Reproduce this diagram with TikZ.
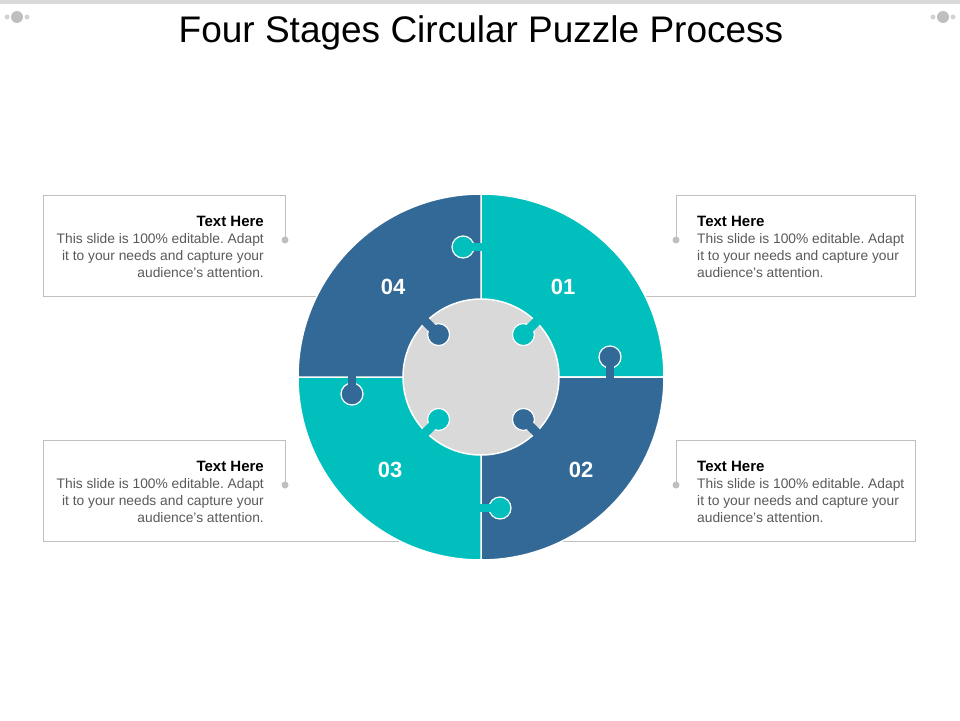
\documentclass[tikz,border=0pt]{standalone}
\usepackage{fontspec}
\setmainfont{Liberation Sans}
\definecolor{cy}{RGB}{0,191,189}
\definecolor{bl}{RGB}{51,105,150}
\definecolor{gr}{RGB}{217,217,217}
\definecolor{ln}{RGB}{191,191,191}
\definecolor{tx}{RGB}{89,89,89}
\tikzset{
  boxline/.style={draw=ln, line width=1pt},
  sector/.style={draw=white, line width=1.5pt},
  knob/.style={draw=white, line width=1.2pt},
  num/.style={font=\fontsize{22}{24}\selectfont\bfseries, text=white},
  head/.style={font=\fontsize{15}{16}\selectfont\bfseries, inner sep=0},
  body/.style={font=\fontsize{13.8}{17}\selectfont, text=tx, inner sep=0},
}
\frenchspacing
\begin{document}
\begin{tikzpicture}[x=1pt,y=-1pt]
\useasboundingbox (0,0) rectangle (960,720);
% top decoration
\fill[gr] (0,0) rectangle (960,4);
\foreach \xx/\s in {17/-1, 943/1}{
  \fill[ln!70] (\xx-10*\s,17) circle (2.5);
  \fill[ln!70] (\xx+10*\s,17) circle (2.5);
  \fill[ln] (\xx,17) circle (6);
}
\node[font=\fontsize{37}{40}\selectfont] (title) at (481,33) {Four Stages Circular Puzzle Process};
% boxes
\draw[boxline] (285,240) -- (285,195) -- (43,195) -- (43,296) -- (481,296);
\draw[boxline] (285,485) -- (285,440) -- (43,440) -- (43,541) -- (481,541);
\draw[boxline] (676,240) -- (676,195) -- (915,195) -- (915,296) -- (481,296);
\draw[boxline] (676,485) -- (676,440) -- (915,440) -- (915,541) -- (481,541);
\foreach \p in {(285,240),(285,485),(676,240),(676,485)} \fill[ln] \p circle (3.5);
% texts
\node[head, anchor=base east] (h1) at (264,226) {Text Here};
\node[body, anchor=north east, align=right] (b1) at (264,233) {This slide is 100\% editable. Adapt\\it to your needs and capture your\\audience's attention.};
\node[head, anchor=base east] (h2) at (264,471) {Text Here};
\node[body, anchor=north east, align=right] (b2) at (264,478) {This slide is 100\% editable. Adapt\\it to your needs and capture your\\audience's attention.};
\node[head, anchor=base west] (h3) at (697,226) {Text Here};
\node[body, anchor=north west, align=left] (b3) at (697,233) {This slide is 100\% editable. Adapt\\it to your needs and capture your\\audience's attention.};
\node[head, anchor=base west] (h4) at (697,471) {Text Here};
\node[body, anchor=north west, align=left] (b4) at (697,478) {This slide is 100\% editable. Adapt\\it to your needs and capture your\\audience's attention.};
% sectors (center 481,377 r 183); y axis points down
\begin{scope}[shift={(481,377)}]
\filldraw[sector, fill=cy] (0,0) -- (0,-183) arc[start angle=-90, end angle=0, radius=183] -- cycle;
\filldraw[sector, fill=bl] (0,0) -- (183,0) arc[start angle=0, end angle=90, radius=183] -- cycle;
\filldraw[sector, fill=cy] (0,0) -- (0,183) arc[start angle=90, end angle=180, radius=183] -- cycle;
\filldraw[sector, fill=bl] (0,0) -- (-183,0) arc[start angle=180, end angle=270, radius=183] -- cycle;
% outer knobs
\filldraw[knob, fill=cy] (-18,-130) circle (11);
\fill[cy] (-10,-134) rectangle (1,-126);
\filldraw[knob, fill=bl] (129,-20) circle (11);
\fill[bl] (125,-12) rectangle (133,1);
\filldraw[knob, fill=cy] (19,131) circle (11);
\fill[cy] (-1,127) rectangle (10,135);
\filldraw[knob, fill=bl] (-129,17) circle (11);
\fill[bl] (-133,-1) rectangle (-125,10);
% inner gray
\filldraw[sector, fill=gr] (0,0) circle (78);
\foreach \a/\c in {-45/cy, -135/bl, 135/cy, 45/bl}{
  \filldraw[knob, fill=\c] (\a:60) circle (11);
  \draw[\c, line width=9pt] (\a:64) -- (\a:81);
}
\end{scope}
\node[num] (n1) at (563,287) {01};
\node[num] (n2) at (581,470) {02};
\node[num] (n3) at (390,470) {03};
\node[num] (n4) at (393,287) {04};
\end{tikzpicture}
\end{document}
